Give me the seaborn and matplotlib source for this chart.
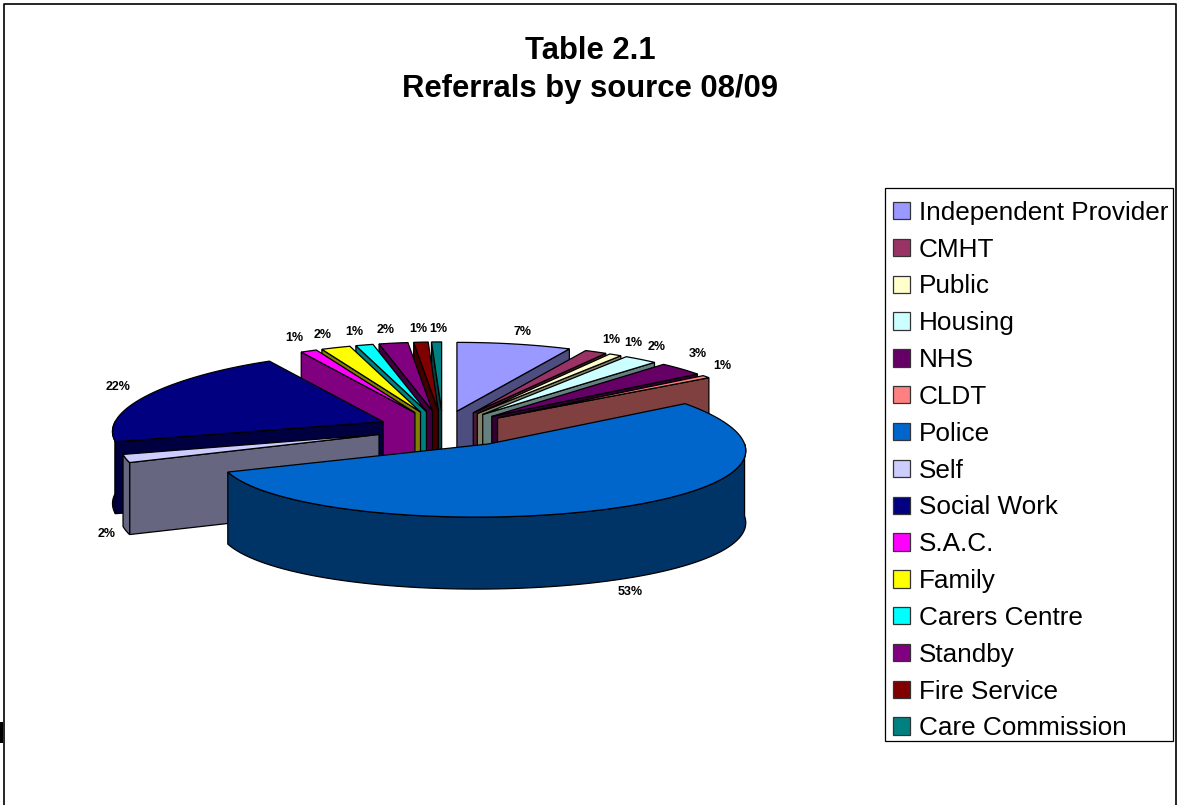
import matplotlib.pyplot as plt
import numpy as np
import seaborn as sns
from matplotlib.colors import to_rgb
from matplotlib.patches import Patch, Polygon, Rectangle

SOURCES = [
    "Independent Provider", "CMHT", "Public", "Housing", "NHS", "CLDT", "Police", "Self",
    "Social Work", "S.A.C.", "Family", "Carers Centre", "Standby", "Fire Service", "Care Commission",
]
# percentages (labels are the rounded values)
SHARES = [7.1, 1.4, 0.8, 2.2, 3.1, 0.6, 53.4, 1.9, 21.5, 1.1, 2.0, 1.2, 2.0, 1.0, 0.7]
COLOURS = [
    "#9999FF", "#993366", "#FFFFCC", "#CCFFFF", "#660066", "#FF8080", "#0066CC", "#CCCCFF",
    "#000080", "#FF00FF", "#FFFF00", "#00FFFF", "#800080", "#800000", "#008080",
]
TITLE = "Table 2.1\nReferrals by source 08/09"

# where Excel put each percentage label, in pixels
LABEL_X = [522, 611, 633, 657, 698, 722, 630, 107, 118, 294, 323, 354, 386, 418, 438]
LABEL_Y = [332, 340, 343, 347, 354, 366, 592, 534, 387, 338, 335, 332, 330, 329, 329]

# fake 3D pie geometry, in pixels
CENTRE_X, CENTRE_Y = 447, 428.5
RADIUS_X, RADIUS_Y = 262, 71
EXPLODE = 0.27
PERSPECTIVE = 0.12
SKEW = 6
DEPTH = 72
# Excel draws this slice a bit shorter than the others
RIM_SCALE = {"Self": 0.955}


def rim_point(theta, apex_x, apex_y, perspective, scale):
    """Screen position of a rim point, theta is clockwise from 12 o'clock in radians."""
    u = np.sin(theta)
    v = -np.cos(theta)
    x = apex_x - SKEW * (1 + v) + scale * RADIUS_X * u * (1 + perspective * v)
    y = apex_y + RADIUS_Y * v * (1 + 0.03 * v)
    return x, y


def apex_point(mid):
    u = np.sin(mid)
    v = -np.cos(mid)
    x = CENTRE_X + EXPLODE * RADIUS_X * u * (1 + PERSPECTIVE * v) + 4 * v
    y = CENTRE_Y + 17.7 * v
    return x, y


def add_shape(ax, points, colour):
    ax.add_patch(Polygon(points, closed=True, facecolor=colour, edgecolor="black", lw=0.9))


def draw_slice(ax, start, end, colour, scale):
    mid = (start + end) / 2
    apex_x, apex_y = apex_point(mid)
    dark = tuple(np.array(to_rgb(colour)) * 0.5)
    # the small slices at the back right do not narrow like the rest
    perspective = 0 if mid < np.pi / 2 else PERSPECTIVE

    # cut faces that look towards the viewer
    for edge, visible in ((start, start > np.pi), (end, end < np.pi)):
        if visible:
            x, y = rim_point(edge, apex_x, apex_y, perspective, scale)
            add_shape(ax, [(apex_x, apex_y), (x, y), (x, y + DEPTH), (apex_x, apex_y + DEPTH)], dark)

    # outer wall, only the front half of the rim shows
    low, high = max(start, np.pi / 2), min(end, 3 * np.pi / 2)
    if high > low:
        x, y = rim_point(np.linspace(low, high, 80), apex_x, apex_y, perspective, scale)
        wall = np.concatenate([np.column_stack([x, y]), np.column_stack([x, y + DEPTH])[::-1]])
        add_shape(ax, wall, dark)

    x, y = rim_point(np.linspace(start, end, 80), apex_x, apex_y, perspective, scale)
    add_shape(ax, np.vstack([[apex_x, apex_y], np.column_stack([x, y])]), colour)


sns.set_theme(style="white", rc={"text.color": "black"})
plt.rcParams["font.family"] = ["Liberation Sans", "DejaVu Sans"]

palette = sns.color_palette(COLOURS)

fig = plt.figure(figsize=(11.79, 8.05), dpi=100)
ax = fig.add_axes([0, 0, 1, 1])
ax.set_xlim(0, 1179)
ax.set_ylim(805, 0)
ax.axis("off")

shares = np.array(SHARES)
ends = np.cumsum(shares) / shares.sum() * 2 * np.pi
starts = ends - shares / shares.sum() * 2 * np.pi

# back slices first so the front ones paint over them
depth_order = np.argsort(-np.cos((starts + ends) / 2))
for i in depth_order:
    draw_slice(ax, starts[i], ends[i], palette[i], RIM_SCALE.get(SOURCES[i], 1))

for share, x, y in zip(SHARES, LABEL_X, LABEL_Y):
    ax.text(x, y, f"{share:.0f}%", fontsize=9, fontweight="bold", ha="center", va="center")

ax.text(590, 70, TITLE, fontsize=22.3, fontweight="bold", ha="center", va="center", linespacing=1.37)

# legend box is drawn by hand so the rows can sit where they do in the original
ax.add_patch(Rectangle((885, 188), 288, 553, facecolor="white", edgecolor="black", lw=0.9))
handles = [Patch(facecolor=c, edgecolor="#333333", lw=0.9) for c in palette]
ax.legend(
    handles, SOURCES,
    loc="upper left",
    bbox_to_anchor=(885, 193),
    bbox_transform=ax.transData,
    fontsize=18.8,
    frameon=False,
    borderaxespad=0,
    borderpad=0.3,
    labelspacing=0.491,
    handlelength=0.65,
    handleheight=0.65,
    handletextpad=0.34,
)

# sheet border and the clipped cell text at the left edge
ax.plot([4, 4, 1176, 1176], [805, 4, 4, 805], color="black", lw=1.2)
ax.add_patch(Rectangle((0, 722), 3, 21, color="black", lw=0))

fig.savefig("out.png", dpi=100)
